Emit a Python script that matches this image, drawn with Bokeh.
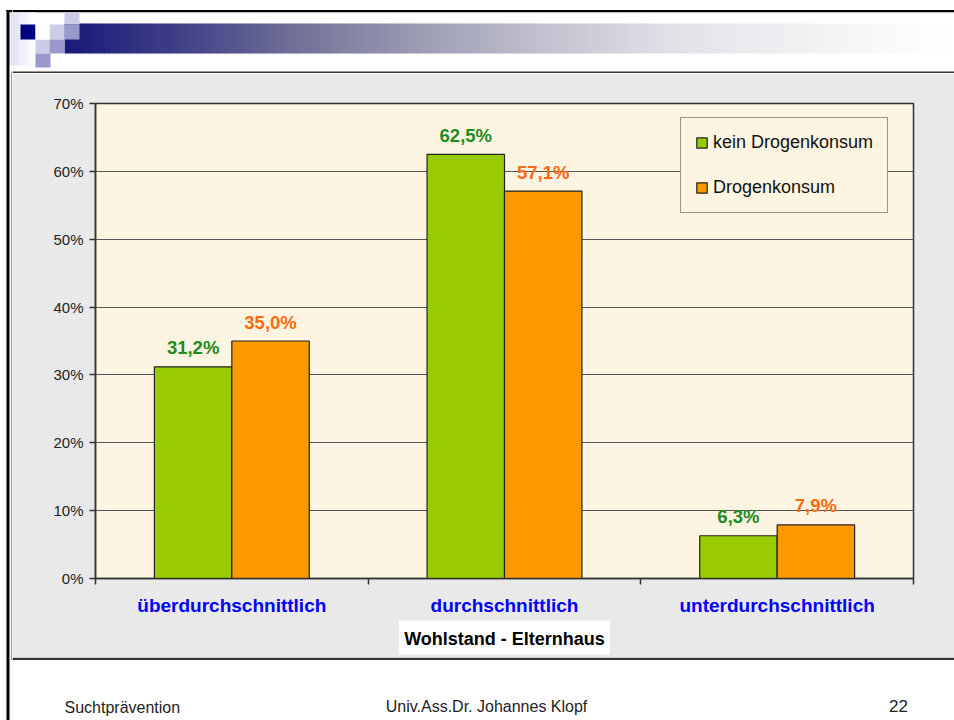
from bokeh.plotting import figure
from bokeh.models import (ColumnDataSource, FactorRange, Range1d, LinearAxis, FixedTicker,
                          PrintfTickFormatter, Title)
from bokeh.transform import dodge
from bokeh.layouts import column, row
from bokeh.core.properties import value
from bokeh.embed import file_html
from bokeh.resources import INLINE

# ---------------- data ----------------
categories = ["überdurchschnittlich", "durchschnittlich", "unterdurchschnittlich"]
kein_drogenkonsum = [31.2, 62.5, 6.3]
drogenkonsum = [35.0, 57.1, 7.9]
series_names = ["kein Drogenkonsum", "Drogenkonsum"]
y_ticks = [0, 10, 20, 30, 40, 50, 60, 70]
x_axis_title = "Wohlstand - Elternhaus"
footer_left = "Suchtprävention"
footer_center = "Univ.Ass.Dr. Johannes Klopf"
footer_right = "22"

# ---------------- style ----------------
FONT = "Liberation Sans"
GREEN = "#99cc00"
ORANGE = "#ff9900"
GREEN_TXT = "#1e8c1e"
ORANGE_TXT = "#ff6a10"
CREAM = "#fdf5e1"
GRAY = "#e9e9e9"
DARK = "#333333"
W = 954
H = 720
X0 = 12          # width of the left strip
HEAD_B = 73      # header ends here (page y)
FOOT_T = 657     # footer starts here (page y)


def no_align(f):
    try:
        f.frame_align = False
    except Exception:
        pass
    return f


def deco_fig(x0, x1, y0, y1):
    f = figure(width=x1 - x0, height=y1 - y0, x_range=Range1d(x0, x1), y_range=Range1d(y1, y0),
               x_axis_type=None, y_axis_type=None, output_backend="svg",
               toolbar_location=None, title_location=None,
               min_border=0, outline_line_color=None,
               background_fill_color="white", border_fill_color="white")
    f.xgrid.visible = False
    f.ygrid.visible = False
    return no_align(f)


def fmt(v):
    return f"{v:.1f}%".replace(".", ",")


# ---------------- left strip (slide border) ----------------
strip = deco_fig(0, X0, 0, H)
strip.quad(left=[6, 6, 10, 11], right=[X0, 9, X0, 12.2], top=[9.5, 9.5, 12, 71],
           bottom=[11.7, H, 65, 659.4], fill_color=["black", "black", "#dedeec", DARK], line_color=None)

# ---------------- header ----------------
head = deco_fig(X0, W, 0, HEAD_B)
head.quad(left=[X0], right=[W], top=[9.5], bottom=[11.7], color="black", line_color=None)
stops = [(64, (24, 24, 120)), (200, (72, 72, 138)), (300, (115, 115, 153)), (420, (156, 156, 180)),
         (540, (192, 192, 207)), (660, (223, 223, 230)), (780, (238, 238, 242)),
         (900, (251, 251, 252)), (954, (255, 255, 255))]


def grad_color(x):
    for (xa_, c0), (xb_, c1) in zip(stops[:-1], stops[1:]):
        if xa_ <= x <= xb_:
            t = (x - xa_) / (xb_ - xa_)
            c = [round(a + (b - a) * t) for a, b in zip(c0, c1)]
            return "#%02x%02x%02x" % tuple(c)
    return "#ffffff"


gl, gr, gc = [], [], []
x = 64
while x < W:
    gl.append(x)
    gr.append(x + 4.5)
    gc.append(grad_color(x + 2))
    x += 4
head.quad(left=gl, right=gr, top=[23] * len(gl), bottom=[53] * len(gl), fill_color=gc, line_color=None)
fl, fr, fc = [], [], []
for i in range(10):
    fl.append(10 + i * 2.5)
    fr.append(10 + i * 2.5 + 2.6)
    v = round(222 + (255 - 222) * i / 9)
    fc.append("#%02x%02x%02x" % (v, v, min(255, v + 14)))
head.quad(left=fl, right=fr, top=[12] * 10, bottom=[65] * 10, fill_color=fc, line_color=None)
sq = [(20, 35, 24, 39, "#000080"),
      (49, 64, 24, 39, "#ccccE6"), (64, 79, 12, 24, "#ccccE6"), (35, 49, 39, 53, "#ccccE6"),
      (64, 79, 24, 39, "#9999cc"), (49, 64, 39, 53, "#9999cc"), (35, 50, 53, 67, "#9999cc"),
      (35, 49, 24, 39, "#ffffff")]
head.quad(left=[s[0] for s in sq], right=[s[1] for s in sq], top=[s[2] for s in sq],
          bottom=[s[3] for s in sq], fill_color=[s[4] for s in sq], line_color=None)
head.quad(left=[X0, X0], right=[W, W], top=[71, 72.6], bottom=[72.6, HEAD_B],
          fill_color=[DARK, GRAY], line_color=None)

# ---------------- chart ----------------
src = ColumnDataSource(dict(
    cat=categories,
    kein=kein_drogenkonsum,
    drog=drogenkonsum,
    kein_lbl=[fmt(v) for v in kein_drogenkonsum],
    drog_lbl=[fmt(v) for v in drogenkonsum],
))

CW = W - X0
CH = FOOT_T - HEAD_B
p = figure(width=CW, height=CH, x_range=FactorRange(factors=categories), y_range=Range1d(0, 70),
           x_axis_type=None, output_backend="svg", toolbar_location=None, title_location=None,
           min_border_left=95 - X0, min_border_right=W - 913,
           min_border_top=103 - HEAD_B, min_border_bottom=FOOT_T - 578,
           background_fill_color=CREAM, border_fill_color=GRAY,
           outline_line_color=DARK, outline_line_width=1.5)
no_align(p)

BW = 0.284
off = BW / 2
p.vbar(x=dodge("cat", -off, range=p.x_range), top="kein", width=BW, source=src,
       fill_color=GREEN, line_color="#222222", line_width=1.2, legend_label=series_names[0])
p.vbar(x=dodge("cat", off, range=p.x_range), top="drog", width=BW, source=src,
       fill_color=ORANGE, line_color="#222222", line_width=1.2, legend_label=series_names[1])

p.text(x=dodge("cat", -off, range=p.x_range), y="kein", text="kein_lbl", source=src,
       text_align="center", text_baseline="alphabetic", y_offset=-19,
       text_font=value(FONT), text_font_style="bold", text_font_size="18.5px", text_color=GREEN_TXT)
p.text(x=dodge("cat", off, range=p.x_range), y="drog", text="drog_lbl", source=src,
       text_align="center", text_baseline="alphabetic", y_offset=-19,
       text_font=value(FONT), text_font_style="bold", text_font_size="18.5px", text_color=ORANGE_TXT)

ya = p.yaxis[0]
ya.ticker = FixedTicker(ticks=y_ticks)
ya.formatter = PrintfTickFormatter(format="%d%%")
ya.major_label_text_font = FONT
ya.major_label_text_font_size = "15px"
ya.major_label_text_color = "#222222"
ya.major_tick_out = 6
ya.major_tick_in = 0
ya.major_tick_line_color = DARK
ya.major_tick_line_width = 1.5
ya.minor_tick_line_color = None
ya.axis_line_color = DARK
ya.axis_line_width = 1.5
ya.major_label_standoff = 6

p.ygrid.grid_line_color = "#555555"
p.ygrid.grid_line_width = 1

n = len(categories)
xa = LinearAxis(ticker=FixedTicker(ticks=[i + 0.5 for i in range(n)], minor_ticks=list(range(n + 1))),
                major_label_overrides={i + 0.5: c for i, c in enumerate(categories)})
xa.major_tick_line_color = None
xa.major_tick_out = 0
xa.major_tick_in = 0
xa.minor_tick_out = 6
xa.minor_tick_in = 0
xa.minor_tick_line_color = DARK
xa.minor_tick_line_width = 1.5
xa.axis_line_color = DARK
xa.axis_line_width = 1.5
xa.major_label_text_font = FONT
xa.major_label_text_font_style = "bold"
xa.major_label_text_font_size = "19px"
xa.major_label_text_color = "#0000ff"
xa.major_label_standoff = 10
p.add_layout(xa, "below")

xt = Title(text=x_axis_title, align="center", text_font=FONT, text_font_style="bold",
           text_font_size="18px", text_color="black", background_fill_color="white",
           standoff=0, offset=0)
try:
    xt.padding = (5, 5, 8, 6)
except Exception:
    try:
        xt.padding = 6
    except Exception:
        pass
p.add_layout(xt, "below")

lg = p.legend[0]
lg.location = (680 - 95, 578 - 213)
lg.background_fill_color = CREAM
lg.background_fill_alpha = 1
lg.border_line_color = DARK
lg.border_line_width = 1.5
lg.padding = 14
lg.spacing = 24
lg.margin = 0
lg.glyph_width = 13
lg.glyph_height = 13
lg.label_standoff = 5
lg.label_text_font = FONT
lg.label_text_font_size = "18px"
lg.label_text_color = "#111111"

# ---------------- footer ----------------
foot = deco_fig(X0, W, FOOT_T, H)
foot.quad(left=[X0], right=[W], top=[FOOT_T], bottom=[659.4], fill_color=DARK, line_color=None)
foot.text(x=[64], y=[706.5], text=[footer_left], text_align="left", text_baseline="alphabetic",
          text_font=value(FONT), text_font_size="16px", text_color="#222222")
foot.text(x=[486], y=[706], text=[footer_center], text_align="center", text_baseline="alphabetic",
          text_font=value(FONT), text_font_size="16px", text_color="#222222")
foot.text(x=[898], y=[705.5], text=[footer_right], text_align="center", text_baseline="alphabetic",
          text_font=value(FONT), text_font_size="17px", text_color="#222222")

layout = row(strip, column(head, p, foot))
open("out.html", "w").write(file_html(layout, INLINE))
